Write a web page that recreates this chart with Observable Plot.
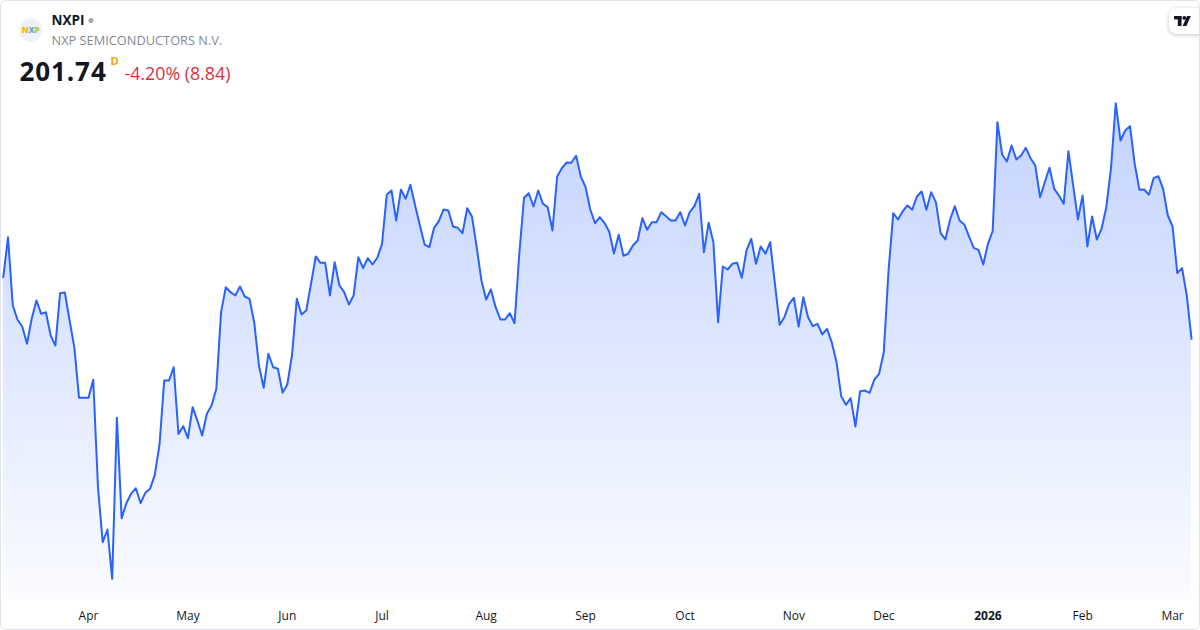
<!DOCTYPE html>
<html><head><meta charset="utf-8">
<script src="https://cdn.jsdelivr.net/npm/d3@7"></script>
<script src="https://cdn.jsdelivr.net/npm/@observablehq/plot@0.6"></script>
<style>
html,body{margin:0;padding:0;background:#fff;}
#wrap{position:relative;width:1200px;height:630px;overflow:hidden;font-family:"Open Sans",sans-serif;background:#fff;}
#chart{position:absolute;left:0;top:0;}
#header{position:absolute;left:0;top:0;}
#frame{position:absolute;left:0;top:0;width:1200px;height:630px;box-sizing:border-box;border:1px solid #e0e3eb;border-radius:6px;pointer-events:none;}
#tv{position:absolute;left:1169px;top:8px;width:40px;height:26px;border-radius:8px;background:#fff;box-shadow:0 1px 4px rgba(0,0,0,0.22);}
</style></head>
<body>
<div id="wrap">
  <div id="chart"></div>
  <svg id="header" width="300" height="95" xmlns="http://www.w3.org/2000/svg" font-family="'Open Sans', sans-serif">
    <circle cx="30.5" cy="30" r="11.7" fill="#eef1f8"/>
    <text x="30.5" y="33" text-anchor="middle" font-size="8.5" font-weight="800" letter-spacing="-0.4"><tspan fill="#f5b400">N</tspan><tspan fill="#6fa8dc">X</tspan><tspan fill="#b5c83a">P</tspan></text>
    <text x="51.5" y="25" font-size="13.5" font-weight="700" fill="#131722">NXPI</text>
    <circle cx="91" cy="20.5" r="2.5" fill="#a3a6af"/>
    <text x="51.5" y="45" font-size="12.8" fill="#868993">NXP SEMICONDUCTORS N.V.</text>
    <text x="19.5" y="80.5" font-size="26" font-weight="700" letter-spacing="0.9" fill="#131722">201.74</text>
    <text x="110.5" y="65" font-size="11" font-weight="700" fill="#f7a000">D</text>
    <text x="124.5" y="80" font-size="17.8" fill="#d9313f">-4.20% (8.84)</text>
  </svg>
  <div id="tv"><svg width="26" height="26" xmlns="http://www.w3.org/2000/svg">
    <g transform="translate(5,8)" fill="#131722">
      <rect x="0" y="0" width="7.5" height="3.4"/>
      <rect x="3.8" y="0" width="3.7" height="10"/>
      <circle cx="10.3" cy="1.9" r="1.9"/>
      <polygon points="13,0 16.8,0 12.4,10 8.6,10"/>
    </g></svg></div>
  <div id="frame"></div>
</div>
<script>
// Daily closes, NXPI, 2025-03-06 .. 2026-03-06 (trading days)
const closes = [
  214.31,222.47,208.54,205.62,204.25,200.72,205.82,209.56,206.84,207.17,202.41,200.37,211.05,211.19,205.47,200.03,189.70,189.70,189.70,193.37,171.45,
  160.23,162.82,152.76,185.62,165.13,168.19,170.11,171.25,168.19,170.31,171.13,173.98,180.17,193.23,193.23,195.94,182.31,183.90,181.45,187.78,185.01,
  182.01,186.43,188.13,191.54,207.17,212.27,211.25,210.58,212.41,210.37,209.90,205.13,196.29,191.74,198.68,195.94,195.62,190.72,192.41,198.47,209.90,
  206.70,207.52,212.96,218.54,217.25,217.25,210.58,217.37,212.62,211.25,208.74,210.58,218.39,216.15,218.19,216.90,218.27,221.05,231.15,232.01,225.88,
  232.17,230.31,233.17,228.94,224.86,220.98,220.43,224.39,225.74,228.13,227.92,224.66,224.39,223.29,228.39,226.70,220.43,213.64,209.76,211.80,208.19,
  205.68,205.68,206.96,204.92,219.09,230.52,231.45,228.74,232.01,229.29,228.60,223.84,234.86,236.56,237.72,237.66,239.09,234.86,232.68,228.13,225.33,
  226.56,225.37,223.58,219.15,222.98,218.68,219.09,220.78,221.80,226.35,223.98,225.54,225.54,227.58,226.76,225.88,225.88,227.58,224.86,227.58,228.80,
  231.33,219.41,225.41,221.45,205.13,216.50,215.88,217.05,217.25,214.19,219.76,222.15,217.05,220.58,219.09,221.45,212.96,204.60,206.15,208.88,210.11,
  204.25,210.23,206.15,204.31,204.80,202.62,203.78,201.05,197.01,190.03,188.27,189.62,183.84,191.05,191.19,190.72,193.43,194.60,199.01,215.68,227.37,
  226.09,227.78,228.94,228.07,230.78,231.80,228.07,231.66,229.62,223.29,222.01,226.03,228.80,225.88,225.07,222.62,220.31,219.90,216.90,221.13,223.74,
  245.94,239.35,237.92,241.19,238.33,239.15,240.72,238.60,237.11,230.64,233.70,236.64,232.35,230.98,229.29,240.03,233.03,226.09,230.98,220.58,226.70,
  222.01,224.19,228.60,236.64,249.82,242.21,244.25,245.13,237.45,232.15,232.21,231.13,234.52,234.92,232.35,226.90,224.66,215.13,216.15,210.58,201.74
];
// index of the first trading day of each labelled month
const tickIndex  = [18, 39, 60, 80, 102, 123, 144, 167, 186, 208, 228, 247];
const tickLabels = ["Apr","May","Jun","Jul","Aug","Sep","Oct","Nov","Dec","2026","Feb","Mar"];
const yDomain = [148.33, 270.78];

const data = closes.map((c, i) => ({i, close: c}));
const ticks = tickIndex.map((i, k) => ({i, label: tickLabels[k]}));

const defs = () => {
  const g = d3.create("svg:defs");
  const lg = g.append("linearGradient").attr("id", "areaGrad")
    .attr("gradientUnits", "userSpaceOnUse")
    .attr("x1", 0).attr("x2", 0).attr("y1", 100).attr("y2", 600);
  lg.append("stop").attr("offset", 0).attr("stop-color", "#2962ff").attr("stop-opacity", 0.28);
  lg.append("stop").attr("offset", 1).attr("stop-color", "#2962ff").attr("stop-opacity", 0.02);
  return g.node();
};

const chart = Plot.plot({
  width: 1200, height: 630,
  marginLeft: 2.8, marginRight: 9, marginTop: 0, marginBottom: 30,
  x: {type: "linear", domain: [0, closes.length - 1], axis: null},
  y: {domain: yDomain, axis: null},
  style: {fontFamily: '"Open Sans", sans-serif', background: "transparent"},
  marks: [
    defs,
    Plot.areaY(data, {x: "i", y1: yDomain[0], y2: "close", fill: "url(#areaGrad)"}),
    Plot.lineY(data, {x: "i", y: "close", stroke: "#2962ff", strokeWidth: 2, strokeLinejoin: "round"}),
    Plot.text(ticks.filter(d => d.label !== "2026"), {x: "i", text: "label", frameAnchor: "bottom", dy: 19.5, fontSize: 12, fill: "#131722"}),
    Plot.text(ticks.filter(d => d.label === "2026"), {x: "i", text: "label", frameAnchor: "bottom", dy: 19.5, fontSize: 12, fontWeight: "bold", fill: "#131722"})
  ]
});
document.getElementById("chart").appendChild(chart);
</script>
</body></html>
